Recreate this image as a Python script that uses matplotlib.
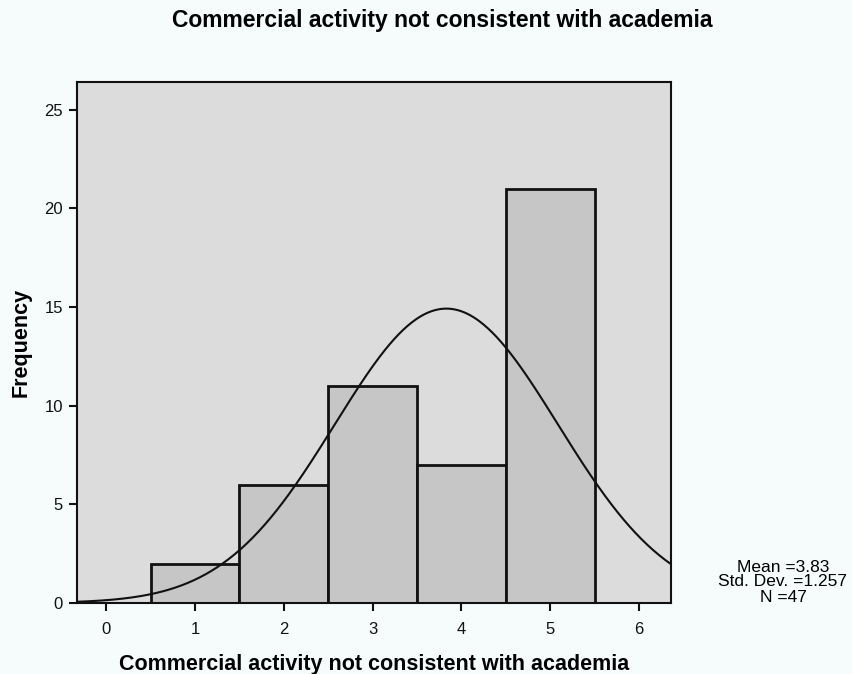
import numpy as np
import matplotlib
matplotlib.use("Agg")
import matplotlib.pyplot as plt

plt.rcParams['font.family'] = ['Liberation Sans', 'DejaVu Sans']

# Data
values = [1, 2, 3, 4, 5]
counts = [2, 6, 11, 7, 21]
mean_val = 3.83
std_val = 1.257
n_total = 47
x_ticks = [0, 1, 2, 3, 4, 5, 6]
y_ticks = [0, 5, 10, 15, 20, 25]
title = "Commercial activity not consistent with academia"
xlabel = "Commercial activity not consistent with academia"
ylabel = "Frequency"

fig = plt.figure(figsize=(8.53, 6.74), dpi=100)
fig.patch.set_facecolor('#f6fbfc')
ax = fig.add_axes([77/853, 1-603/674, (671-77)/853, (603-82)/674])
ax.set_facecolor('#dcdcdc')

ax.bar(values, counts, width=1.0, color='#c6c6c6', edgecolor='#111111', linewidth=2.0, zorder=2)

xs = np.linspace(-0.33, 6.36, 400)
pdf = n_total * 1.0 / (std_val * np.sqrt(2 * np.pi)) * np.exp(-0.5 * ((xs - mean_val) / std_val) ** 2)
ax.plot(xs, pdf, color='#111111', linewidth=1.5, zorder=3)

ax.set_xlim(-0.33, 6.36)
ax.set_ylim(0, 26.4)
ax.set_xticks(x_ticks)
ax.set_xticklabels([str(t) for t in x_ticks])
ax.set_yticks(y_ticks)
ax.set_yticklabels([str(t) for t in y_ticks])
ax.tick_params(axis='both', direction='out', length=6, width=1.5, labelsize=12, colors='#111111')
ax.tick_params(axis='x', pad=8)
ax.tick_params(axis='y', pad=4)
for s in ax.spines.values():
    s.set_linewidth(1.5)
    s.set_color('#111111')

ax.set_xlabel(xlabel, fontsize=15.5, fontweight='bold', labelpad=12)
ax.set_ylabel(ylabel, fontsize=15.5, fontweight='bold', labelpad=9)
fig.text(442/853, 1 - 27/674, title, ha='center', va='baseline',
         fontsize=16.5, fontweight='bold')

fig.text(783/853, 1 - 582/674, "Mean =3.83\nStd. Dev. =1.257\nN =47", ha='center', va='center',
         fontsize=12.5, linespacing=1.0)

fig.savefig('out.png', dpi=100, facecolor=fig.get_facecolor())
